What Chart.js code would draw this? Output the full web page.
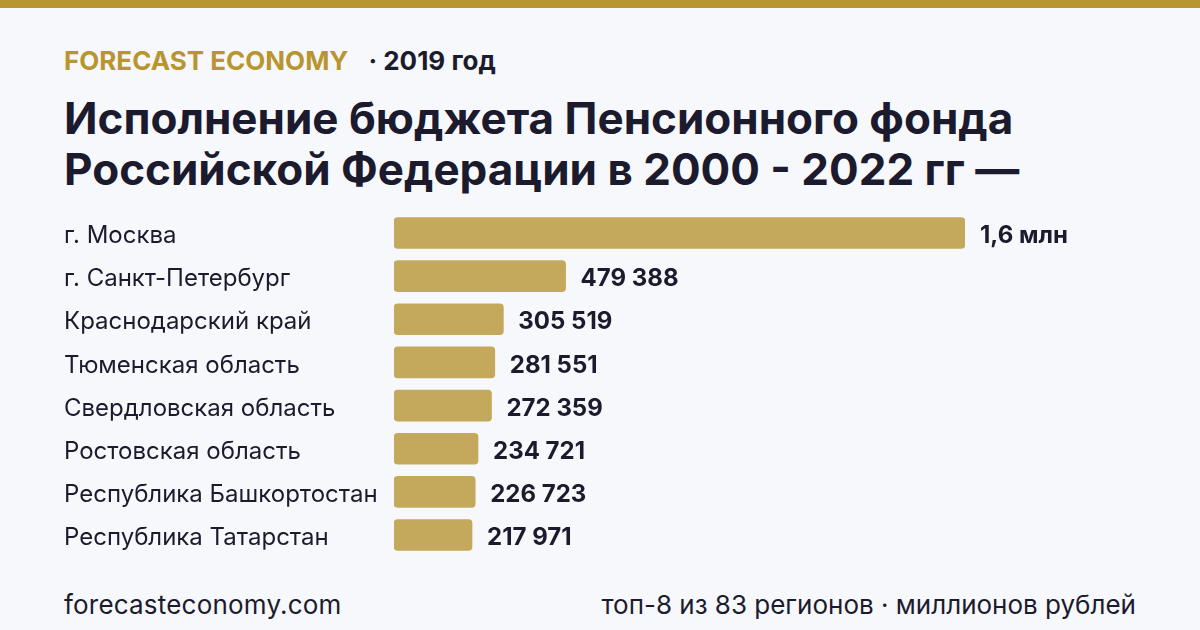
<!DOCTYPE html>
<html lang="ru">
<head>
<meta charset="utf-8">
<script src="https://cdn.jsdelivr.net/npm/chart.js@4/dist/chart.umd.min.js"></script>
<style>
  html, body { margin: 0; padding: 0; }
  body {
    width: 1200px; height: 630px; overflow: hidden; position: relative;
    background: #f7f8fc; font-family: Inter, "Noto Sans", sans-serif; color: #1c1b2e;
  }
  .topbar { position: absolute; left: 0; top: 0; width: 1200px; height: 8px; background: #b8952f; }
  .kicker { position: absolute; left: 64px; top: 45px; font-size: 26px; line-height: 32px; font-weight: 700; white-space: nowrap; }
  .kicker .brand { color: #b8952f; }
  .kicker .year { color: #1c1b2e; margin-left: 20px; }
  h1 {
    position: absolute; left: 64px; top: 93px; margin: 0;
    font-size: 44px; line-height: 51px; font-weight: 700; color: #1c1b2e; white-space: nowrap;
  }
  .chart-wrap { position: absolute; left: 0; top: 197px; width: 1200px; height: 374px; }
  .foot { position: absolute; top: 589px; font-size: 26px; line-height: 32px; color: #1c1b2e; white-space: nowrap; }
  .foot.left { left: 64px; letter-spacing: 0.2px; }
  .foot.right { right: 64px; }
</style>
</head>
<body>
<div class="topbar"></div>
<div class="kicker"><span class="brand">FORECAST ECONOMY</span><span class="year">· 2019 год</span></div>
<h1>Исполнение бюджета Пенсионного фонда<br>Российской Федерации в 2000 - 2022 гг —</h1>
<div class="chart-wrap"><canvas id="chart"></canvas></div>
<div class="foot left">forecasteconomy.com</div>
<div class="foot right">топ-8 из 83 регионов · миллионов рублей</div>

<script>
// regions and values (million rubles)
const regions = [
    'г. Москва',
    'г. Санкт-Петербург',
    'Краснодарский край',
    'Тюменская область',
    'Свердловская область',
    'Ростовская область',
    'Республика Башкортостан',
    'Республика Татарстан'
];
const values = [1595000, 479388, 305519, 281551, 272359, 234721, 226723, 217971];
const valueLabels = ['1,6 млн', '479 388', '305 519', '281 551', '272 359', '234 721', '226 723', '217 971'];

const gold = '#c4a95c';
const ink = '#1c1b2e';

// draw value text right of each bar
const valueLabelPlugin = {
    id: 'valueLabels',
    afterDatasetsDraw(chart) {
        const ctx = chart.ctx;
        const meta = chart.getDatasetMeta(0);
        ctx.save();
        ctx.font = '700 24px Inter, sans-serif';
        ctx.fillStyle = ink;
        ctx.textAlign = 'left';
        ctx.textBaseline = 'middle';
        meta.data.forEach((bar, i) => {
            ctx.fillText(valueLabels[i], bar.x + 15, bar.y + 3);
        });
        ctx.restore();
    }
};

new Chart(document.getElementById('chart'), {
    type: 'bar',
    data: {
        labels: regions,
        datasets: [{
            data: values,
            backgroundColor: gold,
            borderWidth: 0,
            borderRadius: 4,
            borderSkipped: false,
            barThickness: 31
        }]
    },
    options: {
        indexAxis: 'y',
        responsive: true,
        maintainAspectRatio: false,
        animation: false,
        layout: { padding: { left: 64, right: 235, top: 0, bottom: 0 } },
        scales: {
            x: {
                display: false,
                min: 0,
                max: values[0]
            },
            y: {
                grid: { display: false },
                border: { display: false },
                ticks: {
                    crossAlign: 'far',
                    color: ink,
                    font: { family: 'Inter', size: 24 },
                    padding: 0,
                    labelOffset: 3
                },
                afterFit(scale) { scale.width = 330; }
            }
        },
        plugins: {
            legend: { display: false },
            tooltip: { enabled: false }
        }
    },
    plugins: [valueLabelPlugin]
});
</script>
</body>
</html>
